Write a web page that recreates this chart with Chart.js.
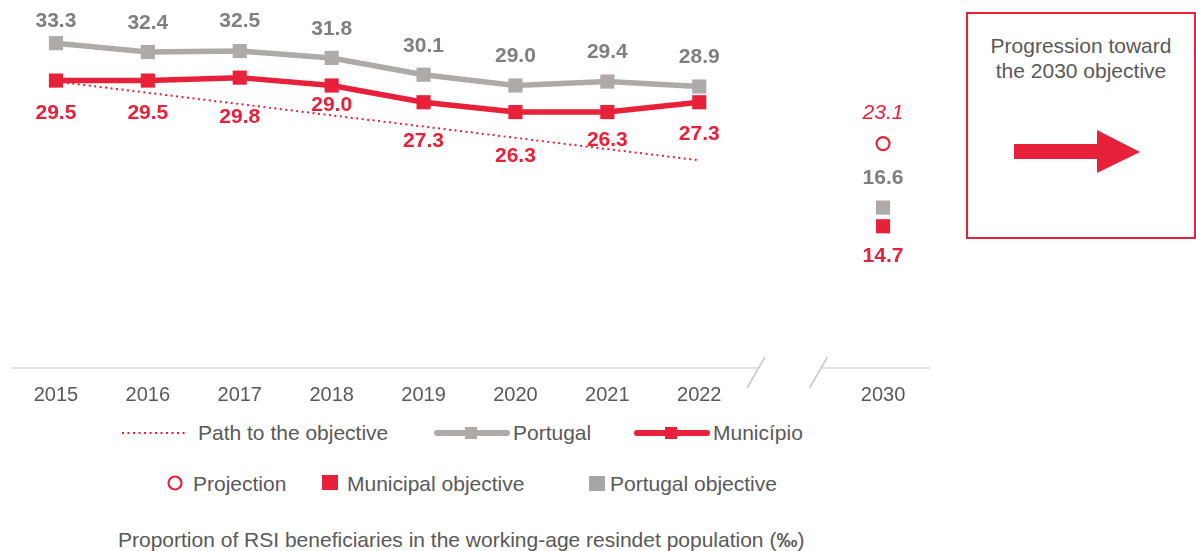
<!DOCTYPE html>
<html>
<head>
<meta charset="utf-8">
<script src="https://cdn.jsdelivr.net/npm/chart.js@4.4.1/dist/chart.umd.min.js"></script>
<style>
  body { margin: 0; background: #fff; font-family: "Liberation Sans", Arial, sans-serif; }
  #page { position: relative; width: 1196px; height: 551px; overflow: hidden; }
  #chartWrap { position: absolute; left: 0; top: 0; width: 940px; height: 411px; }
  .lg { position: absolute; color: #595959; font-size: 21px; line-height: 24px; white-space: nowrap; }
  .sw { position: absolute; }
  #box { position: absolute; left: 966px; top: 12px; width: 226px; height: 223px; border: 2px solid #E8213A; }
  #box .t { position: absolute; left: 0; right: 0; top: 19px; text-align: center; color: #595959; font-size: 21px; line-height: 25px; }
  #caption { position: absolute; left: 118px; top: 527px; color: #595959; font-size: 21px; line-height: 26px; white-space: nowrap; }
</style>
</head>
<body>
<div id="page">
  <div id="chartWrap"><canvas id="chart"></canvas></div>

  <!-- legend row 1 -->
  <svg class="sw" style="left:120px;top:428px" width="70" height="10"><line x1="2" y1="5" x2="68" y2="5" stroke="#E8213A" stroke-width="2" stroke-dasharray="2 3.5"/></svg>
  <div class="lg" style="left:198px;top:421px">Path to the objective</div>
  <svg class="sw" style="left:433px;top:425px" width="78" height="16"><line x1="4" y1="8" x2="74" y2="8" stroke="#AEAAAA" stroke-width="6" stroke-linecap="round"/><rect x="32" y="2" width="12" height="12" fill="#AEAAAA"/></svg>
  <div class="lg" style="left:513px;top:421px">Portugal</div>
  <svg class="sw" style="left:633px;top:425px" width="78" height="16"><line x1="4" y1="8" x2="74" y2="8" stroke="#E8213A" stroke-width="6" stroke-linecap="round"/><rect x="32" y="2" width="12" height="12" fill="#E8213A"/></svg>
  <div class="lg" style="left:713px;top:421px">Município</div>

  <!-- legend row 2 -->
  <svg class="sw" style="left:166px;top:474px" width="18" height="18"><circle cx="9" cy="9" r="6.5" fill="#fff" stroke="#E8213A" stroke-width="2.2"/></svg>
  <div class="lg" style="left:193px;top:472px">Projection</div>
  <svg class="sw" style="left:322px;top:475px" width="16" height="15"><rect x="0" y="0" width="16" height="15" fill="#E8213A"/></svg>
  <div class="lg" style="left:347px;top:472px">Municipal objective</div>
  <svg class="sw" style="left:589px;top:476px" width="16" height="15"><rect x="0" y="0" width="16" height="15" fill="#A6A6A6"/></svg>
  <div class="lg" style="left:610px;top:472px">Portugal objective</div>

  <div id="caption">Proportion of RSI beneficiaries in the working-age resindet population (<b>‰</b>)</div>

  <div id="box">
    <div class="t">Progression toward<br>the 2030 objective</div>
    <svg style="position:absolute;left:0;top:0" width="226" height="223">
      <polygon points="46,130 129,130 129,116 172,138 129,159 129,145 46,145" fill="#E8213A"/>
    </svg>
  </div>
</div>

<script>
// categories (index 8 is the gap for the axis break)
const years = ['2015', '2016', '2017', '2018', '2019', '2020', '2021', '2022', '', '2030'];

// series values (per mil)
const portugal   = [33.3, 32.4, 32.5, 31.8, 30.1, 29.0, 29.4, 28.9, null, null];
const municipio  = [29.5, 29.5, 29.8, 29.0, 27.3, 26.3, 26.3, 27.3, null, null];
const pathToGoal = [29.4, null, null, null, null, null, null, 21.4, null, null];
const projection    = [null, null, null, null, null, null, null, null, null, 23.1];
const portugalGoal  = [null, null, null, null, null, null, null, null, null, 16.6];
const municipalGoal = [null, null, null, null, null, null, null, null, null, 14.7];

const RED = '#E8213A';
const GREY = '#AEAAAA';
const GREY_TEXT = '#7F7F7F';
const LABEL_FONT = 'bold 21px "Liberation Sans", Arial, sans-serif';

// vertical offsets of the value labels, in px from the point
const labelOffsets = {
  portugal:  [-22, -29, -30, -29, -28, -29, -29, -29],
  municipio: [33, 33, 40, 20, 39, 44, 28, 32],
  projection: -30,
  portugalGoal: -29,
  municipalGoal: 30
};

// draws the numbers next to the points
const valueLabels = {
  id: 'valueLabels',
  afterDatasetsDraw(chart) {
    const ctx = chart.ctx;
    ctx.save();
    ctx.textAlign = 'center';
    ctx.textBaseline = 'middle';
    chart.data.datasets.forEach((ds, di) => {
      if (!ds.labelKey) return;
      const meta = chart.getDatasetMeta(di);
      meta.data.forEach((pt, i) => {
        const v = ds.data[i];
        if (v == null) return;
        const off = Array.isArray(labelOffsets[ds.labelKey]) ? labelOffsets[ds.labelKey][i] : labelOffsets[ds.labelKey];
        ctx.fillStyle = ds.labelColor;
        ctx.font = ds.labelFont;
        ctx.fillText(v.toFixed(1), pt.x, pt.y + off);
      });
    });
    ctx.restore();
  }
};

// broken x axis line with two slashes
const brokenAxis = {
  id: 'brokenAxis',
  beforeDatasetsDraw(chart) {
    const ctx = chart.ctx;
    const x = chart.scales.x;
    const y = chart.chartArea.bottom - 3;
    const cutL = x.getPixelForValue(7.65);
    const cutR = x.getPixelForValue(8.33);
    ctx.save();
    ctx.strokeStyle = '#D9D9D9';
    ctx.lineWidth = 1.5;
    ctx.beginPath();
    ctx.moveTo(chart.chartArea.left + 1, y);
    ctx.lineTo(cutL, y);
    ctx.moveTo(cutR, y);
    ctx.lineTo(chart.chartArea.right + 1, y);
    ctx.stroke();
    ctx.strokeStyle = '#C8C8C8';
    ctx.beginPath();
    ctx.moveTo(cutL + 6, y - 11);
    ctx.lineTo(cutL - 12, y + 20);
    ctx.moveTo(cutR + 6, y - 11);
    ctx.lineTo(cutR - 12, y + 20);
    ctx.stroke();
    ctx.restore();
  }
};

new Chart(document.getElementById('chart'), {
  type: 'line',
  data: {
    labels: years,
    datasets: [
      {
        label: 'Município',
        data: municipio,
        borderColor: RED,
        backgroundColor: RED,
        borderWidth: 5.5,
        pointStyle: 'rect',
        pointRadius: 10,
        pointBorderWidth: 0,
        tension: 0,
        order: 1,
        labelKey: 'municipio',
        labelColor: RED,
        labelFont: LABEL_FONT
      },
      {
        label: 'Portugal',
        data: portugal,
        borderColor: GREY,
        backgroundColor: GREY,
        borderWidth: 5.5,
        pointStyle: 'rect',
        pointRadius: 10,
        pointBorderWidth: 0,
        tension: 0,
        order: 2,
        labelKey: 'portugal',
        labelColor: GREY_TEXT,
        labelFont: LABEL_FONT
      },
      {
        label: 'Path to the objective',
        data: pathToGoal,
        spanGaps: true,
        borderColor: RED,
        borderWidth: 2,
        borderDash: [2, 3.5],
        pointRadius: 0,
        order: 3
      },
      {
        label: 'Projection',
        data: projection,
        showLine: false,
        pointStyle: 'circle',
        pointRadius: 6.5,
        pointBorderWidth: 2.2,
        borderColor: RED,
        backgroundColor: '#fff',
        order: 0,
        labelKey: 'projection',
        labelColor: RED,
        labelFont: 'italic 21px "Liberation Sans", Arial, sans-serif'
      },
      {
        label: 'Portugal objective',
        data: portugalGoal,
        showLine: false,
        pointStyle: 'rect',
        pointRadius: 10,
        pointBorderWidth: 0,
        borderColor: GREY,
        backgroundColor: GREY,
        order: 0,
        labelKey: 'portugalGoal',
        labelColor: GREY_TEXT,
        labelFont: LABEL_FONT
      },
      {
        label: 'Municipal objective',
        data: municipalGoal,
        showLine: false,
        pointStyle: 'rect',
        pointRadius: 10,
        pointBorderWidth: 0,
        borderColor: RED,
        backgroundColor: RED,
        order: 0,
        labelKey: 'municipalGoal',
        labelColor: RED,
        labelFont: LABEL_FONT
      }
    ]
  },
  options: {
    responsive: true,
    maintainAspectRatio: false,
    animation: false,
    layout: { padding: { left: 9, right: 11, top: 0, bottom: 0 } },
    plugins: {
      legend: { display: false },
      tooltip: { enabled: false }
    },
    scales: {
      x: {
        offset: true,
        grid: { display: false, drawTicks: false },
        border: { display: false },
        ticks: {
          color: '#595959',
          font: { family: '"Liberation Sans", Arial, sans-serif', size: 20 },
          padding: 12,
          maxRotation: 0,
          autoSkip: false
        },
        afterFit(scale) { scale.height = 40; }
      },
      y: {
        display: false,
        min: 0,
        max: 36.67
      }
    }
  },
  plugins: [brokenAxis, valueLabels]
});
</script>
</body>
</html>
